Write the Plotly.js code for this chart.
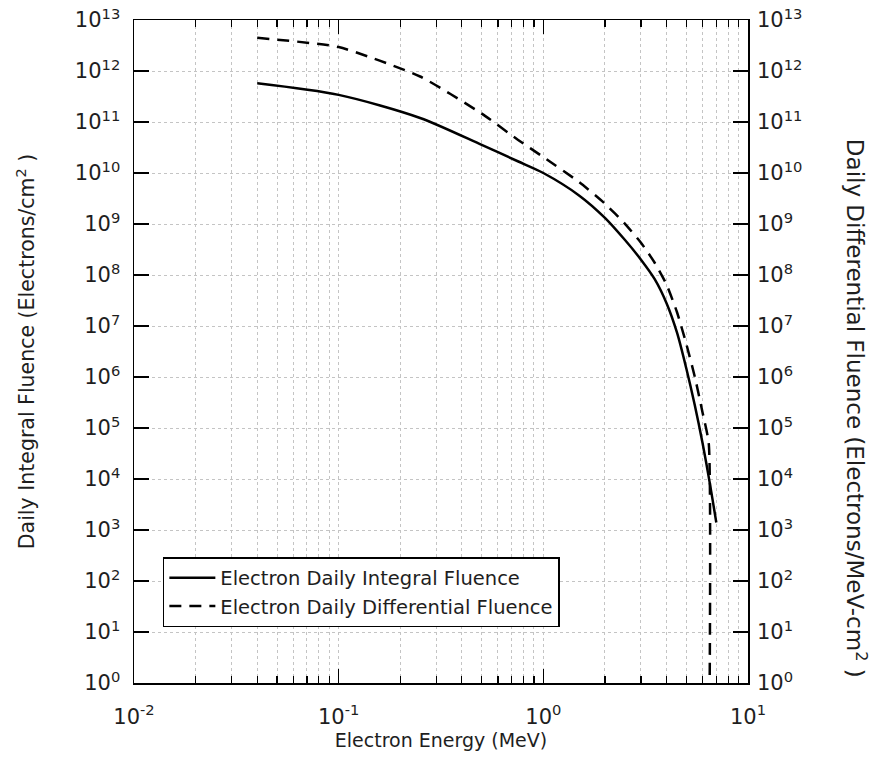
<!DOCTYPE html>
<html><head><meta charset="utf-8">
<script src="https://cdn.plot.ly/plotly-3.0.1.min.js"></script>
<style>html,body{margin:0;padding:0;background:#fff}</style>
</head><body><div id="chart" style="width:878px;height:765px"></div>
<script>
const energy = [0.04,0.1,0.25,0.5,0.75,1.0,1.5,2.0,2.5,3.0,3.5,4.0,4.5,5.0,5.5,6.0,6.5,7.0];
const integralFluence = [5.75e11,3.4e11,1.2e11,3.55e10,1.7e10,1.0e10,3.6e9,1.32e9,4.9e8,2.0e8,8.3e7,2.8e7,7.4e6,1.45e6,2.75e5,5.0e4,8.5e3,1.4e3];
const energyDiff = [0.04,0.1,0.25,0.5,0.75,1.0,1.5,2.0,2.5,3.0,3.5,4.0,4.5,5.0,5.5,6.0,6.43,6.45];
const differentialFluence = [4.47e12,2.95e12,7.8e11,1.46e11,4.5e10,2.05e10,6.6e9,2.5e9,1.02e9,4.3e8,1.74e8,6.5e7,1.86e7,4.4e6,1.0e6,2.0e5,5.0e4,1e-2];
const xTickVals = [0.01,0.1,1,10];
const xTickText = ['10<sup>-2</sup>','10<sup>-1</sup>','10<sup>0</sup>','10<sup>1</sup>'];
const yTickVals = [1,10,100,1e3,1e4,1e5,1e6,1e7,1e8,1e9,1e10,1e11,1e12,1e13];
const yTickText = yTickVals.map((v,i)=>'10<sup>'+i+'</sup>');
const seriesNames = ['Electron Daily Integral Fluence','Electron Daily Differential Fluence'];

const FONT = 'DejaVu Sans, Verdana, sans-serif';
const TXT = '#1e1e1e';
const gridCol = '#c4c4c4';
const traces = [
  {x: energy, y: integralFluence, mode:'lines', name: seriesNames[0],
   line:{color:'#000', width:2.5, shape:'spline', smoothing:0.8}},
  {x: energyDiff, y: differentialFluence, mode:'lines', name: seriesNames[1], yaxis:'y2',
   line:{color:'#000', width:2.5, dash:'12px,8px', shape:'spline', smoothing:0.5}}
];
const layout = {
  width:878, height:765,
  margin:{l:134, r:130, t:20, b:82},
  paper_bgcolor:'#fff', plot_bgcolor:'#fff',
  font:{family:FONT, size:16, color:TXT},
  showlegend:true,
  legend:{x:0.047, y:0.19, xanchor:'left', yanchor:'top', itemwidth:46,
    bordercolor:'#000', borderwidth:1.5, bgcolor:'#fff',
    font:{family:FONT, size:19.5, color:TXT}, tracegroupgap:0},
  xaxis:{type:'log', range:[-2,1], tickvals:xTickVals, ticktext:xTickText,
    ticks:'inside', ticklen:14, tickwidth:1.5, tickcolor:'#000', ticklabelstandoff:14,
    showline:true, linecolor:'#000', linewidth:1.5, mirror:'ticks',
    showgrid:true, gridcolor:gridCol, griddash:'dot', gridwidth:1,
    zeroline:false, tickfont:{family:FONT, size:21, color:TXT},
    minor:{dtick:'D1', ticks:'inside', ticklen:7, tickwidth:1.2, tickcolor:'#000',
      showgrid:true, gridcolor:gridCol, griddash:'dot', gridwidth:1},
    title:{text:'Electron Energy (MeV)', font:{family:FONT, size:19, color:TXT}, standoff:6}},
  yaxis:{type:'log', range:[0,13], tickvals:yTickVals, ticktext:yTickText,
    ticks:'inside', ticklen:15, tickwidth:1.5, tickcolor:'#000', ticklabelstandoff:8,
    showline:true, linecolor:'#000', linewidth:1.5, mirror:true,
    showgrid:true, gridcolor:gridCol, griddash:'dot', gridwidth:1,
    zeroline:false, tickfont:{family:FONT, size:21, color:TXT},
    title:{text:'Daily Integral Fluence (Electrons/cm<sup>2</sup> )', font:{family:FONT, size:20.5, color:TXT}, standoff:34}},
  yaxis2:{type:'log', range:[0,13], overlaying:'y', side:'right',
    tickvals:yTickVals, ticktext:yTickText,
    ticks:'inside', ticklen:15, tickwidth:1.5, tickcolor:'#000', ticklabelstandoff:8,
    showline:false, showgrid:false, zeroline:false,
    tickfont:{family:FONT, size:21, color:TXT}},
  annotations:[{xref:'paper', yref:'paper', x:1.177, y:0.414, xanchor:'center', yanchor:'middle',
    text:'Daily Differential Fluence (Electrons/MeV-cm<sup>2</sup> )', textangle:90, showarrow:false,
    font:{family:FONT, size:23, color:TXT}}]
};
Plotly.newPlot('chart', traces, layout, {displayModeBar:false, staticPlot:true});
</script></body></html>
